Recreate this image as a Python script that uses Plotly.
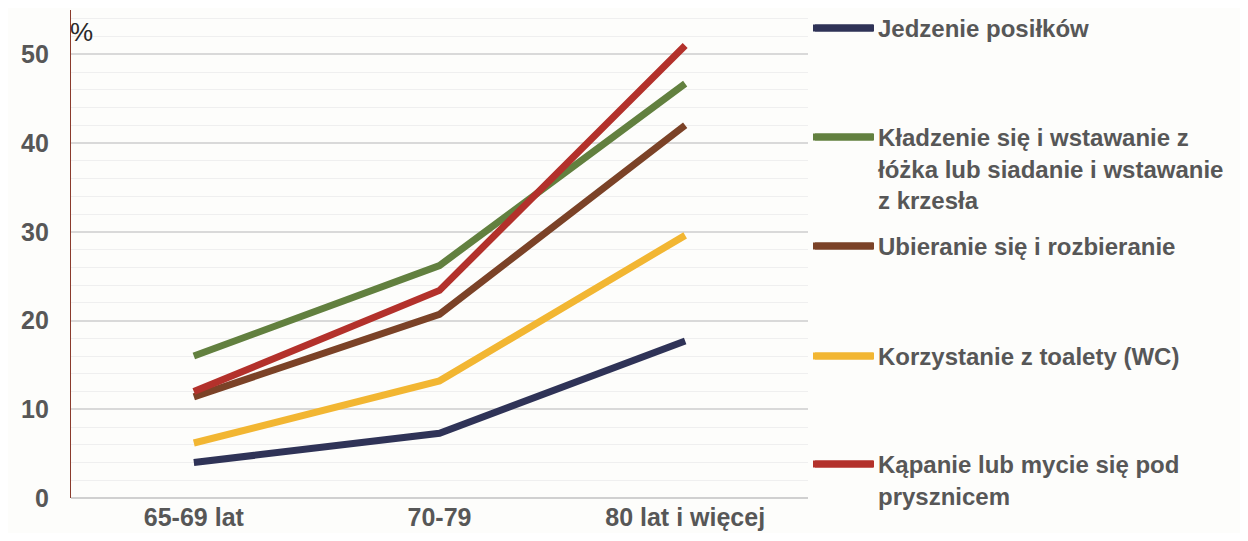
import plotly.graph_objects as go

categories = ["65-69 lat", "70-79", "80 lat i więcej"]

series_names = [
    "Jedzenie posiłków",
    "Kładzenie się i wstawanie z<br>łóżka lub siadanie i wstawanie<br>z krzesła",
    "Ubieranie się i rozbieranie",
    "Korzystanie z toalety (WC)",
    "Kąpanie lub mycie się pod<br>prysznicem",
]

jedzenie = [4.0, 7.3, 17.7]
kladzenie = [16.0, 26.2, 46.7]
ubieranie = [11.4, 20.7, 42.0]
toaleta = [6.2, 13.2, 29.6]
kapanie = [12.0, 23.4, 51.0]

series_values = [jedzenie, kladzenie, ubieranie, toaleta, kapanie]
colors = ["#2f3357", "#62803f", "#7b4227", "#f2b632", "#b3312b"]

y_ticks = [0, 10, 20, 30, 40, 50]

# page body has an 8px margin; figure coords = page coords - 8
OFF = 8
W, H = 1248 - 2 * OFF, 541 - 2 * OFF
L = 71 - OFF
R = W - (808 - OFF)
T = 10 - OFF
B = H - (498 - OFF)
plot_h = H - T - B
plot_w = W - L - R

# legend first-line centers (page pixels from top)
legend_centers = [28, 137, 246, 356, 464]

LW = 7

fig = go.Figure()
legend_keys = ["legend", "legend2", "legend3", "legend4", "legend5"]
for name, vals, col, lk in zip(series_names, series_values, colors, legend_keys):
    fig.add_trace(go.Scatter(
        x=categories, y=vals, name=name, mode="lines",
        line=dict(color=col, width=LW),
        legend=lk,
    ))

font_family = "Liberation Sans, Arial, sans-serif"
layout_legends = {}
for lk, c in zip(legend_keys, legend_centers):
    top_px = c - OFF - 22
    layout_legends[lk] = dict(
        x=1.0, xanchor="left", xref="paper",
        y=(H - B - top_px) / plot_h, yanchor="top", yref="paper",
        bgcolor="rgba(0,0,0,0)", valign="top",
        font=dict(family=font_family, size=24, color="#575757", weight="bold"),
        itemwidth=60,
    )

fig.update_layout(
    width=W, height=H,
    margin=dict(l=L, r=R, t=T, b=B, autoexpand=False),
    paper_bgcolor="#fdfdfb", plot_bgcolor="#fdfdfb",
    showlegend=True,
    **layout_legends,
)

# longer legend keys (the reference swatch lines are ~60px long)
for c, col in zip(legend_centers, colors):
    yy = (H - B - (c - OFF)) / plot_h
    fig.add_shape(
        type="line", xref="paper", yref="paper",
        x0=(815 - OFF - L) / plot_w, x1=(874 - OFF - L) / plot_w, y0=yy, y1=yy,
        line=dict(color=col, width=LW),
    )

fig.update_xaxes(
    type="category", range=[-0.5, 2.5],
    showgrid=False, zeroline=False, showline=False,
    ticks="", ticklabelstandoff=2,
    tickfont=dict(family=font_family, size=25, color="#575757", weight="bold"),
)
fig.update_yaxes(
    range=[0, 55], tickvals=y_ticks,
    showgrid=True, gridcolor="#d9d9d9", gridwidth=1.5,
    minor=dict(dtick=2, tick0=0, showgrid=True, gridcolor="#efefef", gridwidth=1.2),
    zeroline=True, zerolinecolor="#d0d0d0", zerolinewidth=1.5,
    showline=True, linecolor="#8a3b2c", linewidth=1.2,
    ticks="", ticklabelstandoff=16,
    tickfont=dict(family=font_family, size=25, color="#575757", weight="bold"),
)

fig.add_annotation(
    text="%", xref="paper", yref="paper", x=0, y=(H - B - (32 - OFF)) / plot_h,
    xanchor="left", yanchor="middle", showarrow=False, xshift=-3,
    font=dict(family=font_family, size=26, color="#2a2a2a"),
)

fig.write_html("out.html")
